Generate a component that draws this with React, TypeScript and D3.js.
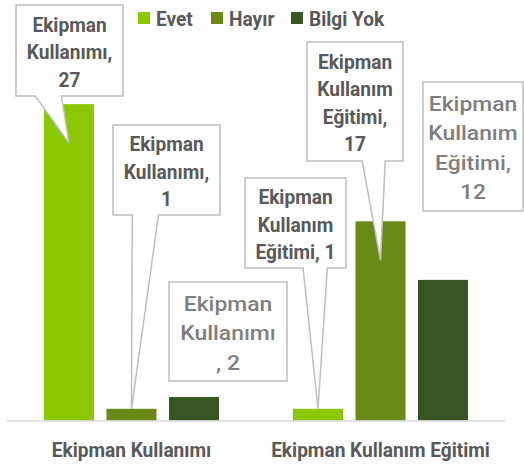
import React from "react";
import * as d3 from "d3";

// ---- data ----
const categories = ["Ekipman Kullanımı", "Ekipman Kullanım Eğitimi"];
const seriesNames = ["Evet", "Hayır", "Bilgi Yok"];
const evetValues = [27, 1];
const hayirValues = [1, 17];
const bilgiYokValues = [2, 12];
const yDomain = [0, 30];

// data label text lines (category, value) as wrapped in the reference
const labelLines = [
  ["Ekipman", "Kullanımı,", "27"],
  ["Ekipman", "Kullanımı,", "1"],
  ["Ekipman", "Kullanımı", ", 2"],
  ["Ekipman", "Kullanım", "Eğitimi, 1"],
  ["Ekipman", "Kullanım", "Eğitimi,", "17"],
  ["Ekipman", "Kullanım", "Eğitimi,", "12"],
];

// ---- layout / style (not data) ----
const W = 524;
const H = 466;
const colors = ["#8bc800", "#6a8917", "#375623"];
const FONT = "Roboto, 'DejaVu Sans Condensed', sans-serif";
const FS = 21;
const SX = 0.91; // horizontal condensing of the narrow chart font

// callout boxes
const calloutLayout = [
  { cat: 0, s: 0, x: 16, y: 5, w: 107, h: 91, pointer: true, tipDy: 39 },
  { cat: 0, s: 1, x: 113, y: 125, w: 107, h: 90, pointer: true, tipDy: 0 },
  { cat: 0, s: 2, x: 169, y: 282, w: 118, h: 99, pointer: false, tipDy: 0 },
  { cat: 1, s: 0, x: 245, y: 178, w: 101, h: 90, pointer: true, tipDy: 0 },
  { cat: 1, s: 1, x: 307, y: 42, w: 96, h: 119, pointer: true, tipDy: 39 },
  { cat: 1, s: 2, x: 423, y: 82, w: 100, h: 129, pointer: false, tipDy: 0 },
];

function T(props: {
  x: number;
  y: number;
  anchor?: "start" | "middle" | "end";
  sx?: number;
  weight?: number;
  fill?: string;
  children: React.ReactNode;
}) {
  const { x, y, anchor = "start", sx = SX, weight = 700, fill = "#595959", children } = props;
  return (
    <text
      transform={`translate(${x},${y}) scale(${sx},1)`}
      textAnchor={anchor}
      fontSize={FS}
      fontWeight={weight}
      fill={fill}
    >
      {children}
    </text>
  );
}

export default function App() {
  const series = [evetValues, hayirValues, bilgiYokValues];

  const x0 = d3.scaleBand<string>().domain(categories).range([7, 505]);
  const x1 = d3
    .scaleBand<string>()
    .domain(seriesNames)
    .range([37, 212])
    .paddingInner(0.2);
  const y = d3.scaleLinear().domain(yDomain).range([420.5, 69]);

  const bars: { x: number; y: number; w: number; h: number; c: string }[] = [];
  categories.forEach((cat, ci) => {
    seriesNames.forEach((s, si) => {
      const v = series[si][ci];
      const bx = (x0(cat) ?? 0) + (x1(s) ?? 0);
      bars.push({ x: bx, y: y(v), w: x1.bandwidth(), h: y(0) - y(v), c: colors[si] });
    });
  });

  const callouts = calloutLayout.map((L, i) => {
    const cat = categories[L.cat];
    const s = seriesNames[L.s];
    const v = series[L.s][L.cat];
    const cx = (x0(cat) ?? 0) + (x1(s) ?? 0) + x1.bandwidth() / 2;
    const tipX = cx;
    const tipY = y(v) + L.tipDy;
    let d: string;
    if (L.pointer) {
      const boxCx = L.x + L.w / 2;
      const f0 = tipX < boxCx ? 0.18 : 0.575;
      const f1 = tipX < boxCx ? 0.425 : 0.815;
      const bl = L.x + L.w * f0;
      const br = L.x + L.w * f1;
      d = `M${L.x},${L.y}H${L.x + L.w}V${L.y + L.h}H${br}L${tipX},${tipY}L${bl},${L.y + L.h}H${L.x}Z`;
    } else {
      d = `M${L.x},${L.y}H${L.x + L.w}V${L.y + L.h}H${L.x}Z`;
    }
    const big = L.s === 2;
    const lh = big ? 29.5 : 27.5;
    const lines = labelLines[i];
    const n = lines.length;
    const midY = L.y + L.h / 2;
    return (
      <g key={i}>
        <path d={d} fill="#ffffff" stroke="#bfbfbf" strokeWidth={1.5} />
        {lines.map((t, li) => (
          <T
            key={li}
            x={L.x + L.w / 2}
            y={midY + (li - (n - 1) / 2) * lh + 8.5}
            anchor="middle"
            sx={big ? 1.09 : SX}
            weight={big ? 500 : 700}
            fill={big ? "#7f7f7f" : "#595959"}
          >
            {t}
          </T>
        ))}
      </g>
    );
  });

  const legendX = [138, 211, 291];

  return (
    <div style={{ position: "absolute", left: 0, top: 0 }}>
      <svg width={W} height={H} style={{ display: "block", fontFamily: FONT }}>
        <rect width={W} height={H} fill="#ffffff" />
        {bars.map((b, i) => (
          <rect key={i} x={b.x} y={b.y} width={b.w} height={b.h} fill={b.c} />
        ))}
        <line x1={7} x2={505} y1={y(0) + 0.5} y2={y(0) + 0.5} stroke="#d9d9d9" strokeWidth={1.5} />
        {callouts}
        {seriesNames.map((s, i) => (
          <g key={s}>
            <rect x={legendX[i]} y={12} width={12} height={12} fill={colors[i]} />
            <T x={legendX[i] + 18} y={25.5}>
              {s}
            </T>
          </g>
        ))}
        {categories.map((c) => (
          <T key={c} x={(x0(c) ?? 0) + x0.bandwidth() / 2} y={457} anchor="middle">
            {c}
          </T>
        ))}
      </svg>
    </div>
  );
}
